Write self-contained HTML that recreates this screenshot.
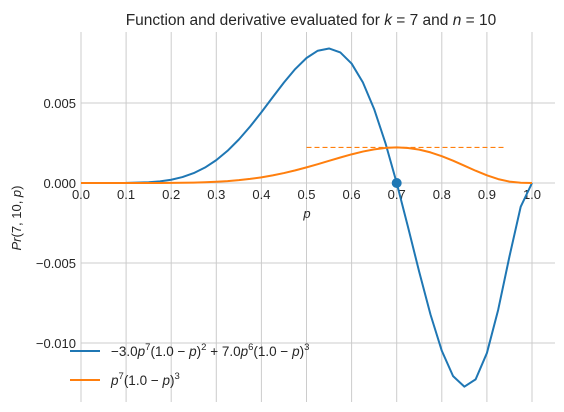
<!DOCTYPE html>
<html><head><meta charset="utf-8"><style>
body{margin:0;background:#fff;}
svg{display:block;font-family:"Liberation Sans","DejaVu Sans",sans-serif;}
</style></head><body>
<svg id="chart" width="564" height="412" viewBox="0 0 564 412">
<text x="311" y="25" font-size="15.5" text-anchor="middle" fill="#262626">Function and derivative evaluated for <tspan font-style="italic">k</tspan> = 7 and <tspan font-style="italic">n</tspan> = 10</text>
<g id="grid"></g>
<g id="ticks"></g>
<g id="series"></g>
<text x="307" y="218" font-size="13" font-style="italic" text-anchor="middle" fill="#262626">p</text>
<text transform="translate(21,218) rotate(-90)" font-size="13" text-anchor="middle" fill="#262626"><tspan font-style="italic">Pr</tspan>(7, 10, <tspan font-style="italic">p</tspan>)</text>
<g>
<line x1="70" y1="351" x2="100" y2="351" stroke="#1f77b4" stroke-width="2"/>
<text x="111" y="356" font-size="13.5" fill="#262626">−3.0<tspan font-style="italic">p</tspan><tspan dy="-6" font-size="9.5">7</tspan><tspan dy="6">(1.0 − </tspan><tspan font-style="italic">p</tspan>)<tspan dy="-6" font-size="9.5">2</tspan><tspan dy="6"> + 7.0</tspan><tspan font-style="italic">p</tspan><tspan dy="-6" font-size="9.5">6</tspan><tspan dy="6">(1.0 − </tspan><tspan font-style="italic">p</tspan>)<tspan dy="-6" font-size="9.5">3</tspan></text>
<line x1="70" y1="380" x2="100" y2="380" stroke="#ff7f0e" stroke-width="2"/>
<text x="111" y="385" font-size="13.5" fill="#262626"><tspan font-style="italic">p</tspan><tspan dy="-6" font-size="9.5">7</tspan><tspan dy="6">(1.0 − </tspan><tspan font-style="italic">p</tspan>)<tspan dy="-6" font-size="9.5">3</tspan></text>
</g>
</svg>
<script>
const pValues=[0,0.05,0.1,0.15,0.175,0.2,0.225,0.25,0.275,0.3,0.325,0.35,0.375,0.4,0.425,0.45,0.475,0.5,0.525,0.55,0.575,0.6,0.625,0.65,0.675,0.7,0.725,0.75,0.775,0.8,0.825,0.85,0.875,0.9,0.925,0.95,0.975,1.0];
const derivValues=[0,0,4.86e-6,4.526e-5,1.0267e-4,2.048e-4,3.702e-4,6.18e-4,9.662e-4,1.4288e-3,2.0134e-3,2.718e-3,3.53e-3,4.424e-3,5.358e-3,6.28e-3,7.123e-3,7.8125e-3,8.268e-3,8.408e-3,8.16e-3,7.465e-3,6.287e-3,4.62e-3,2.4977e-3,0,-2.746e-3,-5.562e-3,-8.227e-3,-0.010486,-0.01207,-0.012729,-0.012272,-0.010629,-7.928e-3,-4.594e-3,-1.477e-3,0];
const funcValues=[0,0,7.29e-8,1.049e-6,2.7e-6,6.55e-6,1.359e-5,2.575e-5,4.532e-5,7.5e-5,1.178e-4,1.767e-4,2.546e-4,3.539e-4,4.761e-4,6.217e-4,7.895e-4,9.766e-4,1.178e-3,1.387e-3,1.595e-3,1.791e-3,1.9645e-3,2.102e-3,2.1917e-3,2.224e-3,2.1896e-3,2.086e-3,1.9128e-3,1.678e-3,1.394e-3,1.082e-3,7.67e-4,4.783e-4,2.445e-4,8.73e-5,1.309e-5,0];
const xTicks=[0,0.1,0.2,0.3,0.4,0.5,0.6,0.7,0.8,0.9,1.0];
const yTicks=[0.005,0,-0.005,-0.010];
const yTickLabels=["0.005","0.000","−0.005","−0.010"];
const markerP=[0.7];
const markerV=[0];
const dashY=[0.002224];
const dashX=[0.5,0.94];

const X=p=>81+p*451;
const Y=v=>183-v*16000;
const NS="http://www.w3.org/2000/svg";
function mk(tag,attrs,parent){const e=document.createElementNS(NS,tag);for(const k in attrs)e.setAttribute(k,attrs[k]);parent.appendChild(e);return e;}
const grid=document.getElementById('grid'),ticks=document.getElementById('ticks'),series=document.getElementById('series');
xTicks.forEach(t=>{
  const l=mk('line',{x1:X(t),x2:X(t),y1:32,y2:402,stroke:'#cccccc','stroke-width':1},grid);
  
  
  const tx=mk('text',{x:X(t),y:199,'font-size':13,'text-anchor':'middle',fill:'#262626'},ticks);
  tx.textContent=t.toFixed(1);
  
  
});
yTicks.forEach((t,i)=>{
  const l=mk('line',{x1:81,x2:555,y1:Y(t),y2:Y(t),stroke:'#cccccc','stroke-width':1},grid);
  
  
  const tx=mk('text',{x:76,y:Y(t)+5,'font-size':13,'text-anchor':'end',fill:'#262626'},ticks);
  tx.textContent=yTickLabels[i];
  
  
});
const dl=mk('line',{x1:X(dashX[0]),x2:X(dashX[1]),y1:Y(dashY[0]),y2:Y(dashY[0]),stroke:'#ff7f0e','stroke-width':1.2,'stroke-dasharray':'5,3'},series);


const d1=pValues.map((p,i)=>X(p)+','+Y(derivValues[i])).join(' ');
const pl1=mk('polyline',{points:d1,fill:'none',stroke:'#1f77b4','stroke-width':2,'stroke-linejoin':'round'},series);


const d2=pValues.map((p,i)=>X(p)+','+Y(funcValues[i])).join(' ');
const pl2=mk('polyline',{points:d2,fill:'none',stroke:'#ff7f0e','stroke-width':2,'stroke-linejoin':'round'},series);


markerP.forEach((p,i)=>{
  const c=mk('circle',{cx:X(p),cy:Y(markerV[i]),r:5,fill:'#1f77b4'},series);
  
  
});
</script>
</body></html>
